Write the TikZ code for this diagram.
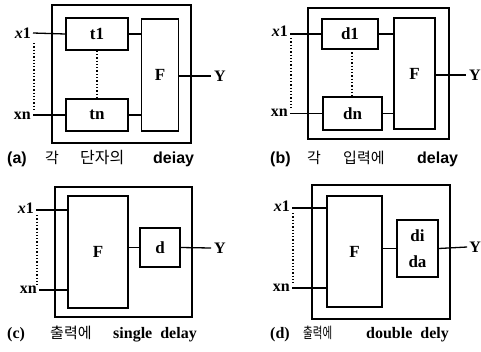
\documentclass[tikz,border=0pt]{standalone}
\usepackage{graphicx}
\usepackage{fontspec}
\setmainfont{Liberation Serif}
\setsansfont{Liberation Sans}
\newfontfamily\kr{Noto Sans CJK KR}
\begin{document}
\begin{tikzpicture}[x=1pt,y=-1pt,
  frame/.style={draw,line width=1.3pt},
  blk/.style={draw,line width=1.3pt,inner sep=0pt,font=\bfseries\fontsize{17}{18}\selectfont},
  lab/.style={inner sep=0pt,font=\bfseries\fontsize{16}{17}\selectfont},
  wire/.style={line width=1.3pt},
  dots/.style={line width=1.3pt,dotted},
  captxt/.style={anchor=base west,inner sep=0pt,font=\bfseries\fontsize{16}{17}\selectfont},
  krtxt/.style={captxt,font=\kr\fontsize{15}{16}\selectfont},
  sftxt/.style={captxt,font=\sffamily\bfseries\fontsize{16}{17}\selectfont}]
\useasboundingbox (0,0) rectangle (481,351);
% ---------- (a)
\draw[frame] (52,5) rectangle (191,143);
\node[blk,minimum width=62pt,minimum height=32pt] (at1) at (97,34) {t1};
\node[blk,minimum width=62pt,minimum height=32pt] (atn) at (97,115) {tn};
\node[blk,minimum width=37pt,minimum height=112pt] (aF) at (160,75) {F};
\node[lab,anchor=east] (ax1) at (31,33) {\textit{x}1};
\node[lab,anchor=east] (axn) at (31,116) {xn};
\node[lab] (aY) at (220,76) {Y};
\draw[wire] (ax1.east) ++(2,0) -- (at1.west);
\draw[wire] (axn.east |- atn.west) ++(2,0) -- (atn.west);
\draw[wire] (at1.east) -- (at1.east -| aF.west);
\draw[wire] (atn.east) -- (atn.east -| aF.west);
\draw[wire] (aF.east |- aY.west) -- ([xshift=-3pt]aY.west);
\draw[dots] (34,43) -- (34,110);
\draw[dots] (at1.south) -- (atn.north);
\node[sftxt] (ca1) at (7,163) {(a)};
\node[krtxt] (ca2) at (45,163) {각};
\node[krtxt,font=\kr\fontsize{16}{17}\selectfont] (ca3) at (80,163) {단자의};
\node[sftxt] (ca4) at (153,163) {deiay};
% ---------- (b)
\draw[frame] (308,8) rectangle (449,139);
\node[blk,minimum width=56pt,minimum height=30pt] (bd1) at (350,34) {d1};
\node[blk,minimum width=59pt,minimum height=33pt] (bdn) at (352.5,113.5) {dn};
\node[blk,minimum width=41pt,minimum height=111pt] (bF) at (414.5,73.5) {F};
\node[lab,anchor=east] (bx1) at (288,31) {\textit{x}1};
\node[lab,anchor=east] (bxn) at (288,113) {xn};
\node[lab] (bY) at (475,75) {Y};
\draw[wire] (bx1.east |- bd1.west) ++(2,0) -- (bd1.west);
\draw[wire] (bxn.east |- bdn.west) ++(2,0) -- (bdn.west);
\draw[wire] (bd1.east) -- (bd1.east -| bF.west);
\draw[wire] (bdn.east) -- (bdn.east -| bF.west);
\draw[wire] (bF.east |- bY.west) -- ([xshift=-3pt]bY.west);
\draw[dots] (291,38) -- (291,108);
\draw[dots] (352,49) -- (352,97);
\node[sftxt] (cb1) at (270,163) {(b)};
\node[krtxt] (cb2) at (307,163) {각};
\node[krtxt] (cb3) at (343,163) {입력에};
\node[sftxt] (cb4) at (417,163) {delay};
% ---------- (c)
\draw[frame] (55,187) rectangle (192,317);
\node[blk,minimum width=60pt,minimum height=112pt] (cF) at (98,252) {F};
\node[blk,minimum width=40pt,minimum height=39pt] (cd) at (160,247.5) {d};
\node[lab,anchor=east] (cx1) at (34,208) {\textit{x}1};
\node[lab,anchor=east] (cxn) at (37,290) {xn};
\node[lab] (cY) at (220,248) {Y};
\draw[wire] (cx1.east |- 0,210) ++(2,0) -- (cF.west |- 0,210);
\draw[wire] (cxn.east) ++(2,0) -- (cxn.east -| cF.west);
\draw[wire] (cF.east |- cd.west) -- (cd.west);
\draw[wire] (cd.east) -- ([xshift=-3pt]cY.west);
\draw[dots] (37,215) -- (37,285);
\node[captxt] (cc1) at (7,338) {(c)};
\node[krtxt] (cc2) at (50,338) {출력에};
\node[captxt] (cc3) at (113,338) {single\ \ delay};
% ---------- (d)
\draw[frame] (312,185) rectangle (450,319);
\node[blk,minimum width=55pt,minimum height=111pt] (dF) at (354.5,251.5) {F};
\node[draw,line width=1.3pt,minimum width=41pt,minimum height=57pt] (dd) at (417.5,248.5) {};
\node[blk,draw=none] (ddi) at (417.5,236) {di};
\node[blk,draw=none] (dda) at (417.5,262) {da};
\node[lab,anchor=east] (dx1) at (290,206) {\textit{x}1};
\node[lab,anchor=east] (dxn) at (290,288) {xn};
\node[lab,anchor=east] (dY) at (481,247) {Y};
\draw[wire] (dx1.east |- 0,208) ++(2,0) -- (dF.west |- 0,208);
\draw[wire] (dxn.east) ++(2,0) -- (dxn.east -| dF.west);
\draw[wire] (dF.east |- dd.west) -- (dd.west);
\draw[wire] (dd.east) -- ([xshift=-2pt]dY.west);
\draw[dots] (293,213) -- (293,283);
\node[captxt] (cd1) at (270,338) {(d)};
\node[krtxt] (cd2) at (303,338) {\scalebox{0.7}[1]{출력에}};
\node[captxt] (cd3) at (366,338) {double\ \ dely};
\end{tikzpicture}
\end{document}
